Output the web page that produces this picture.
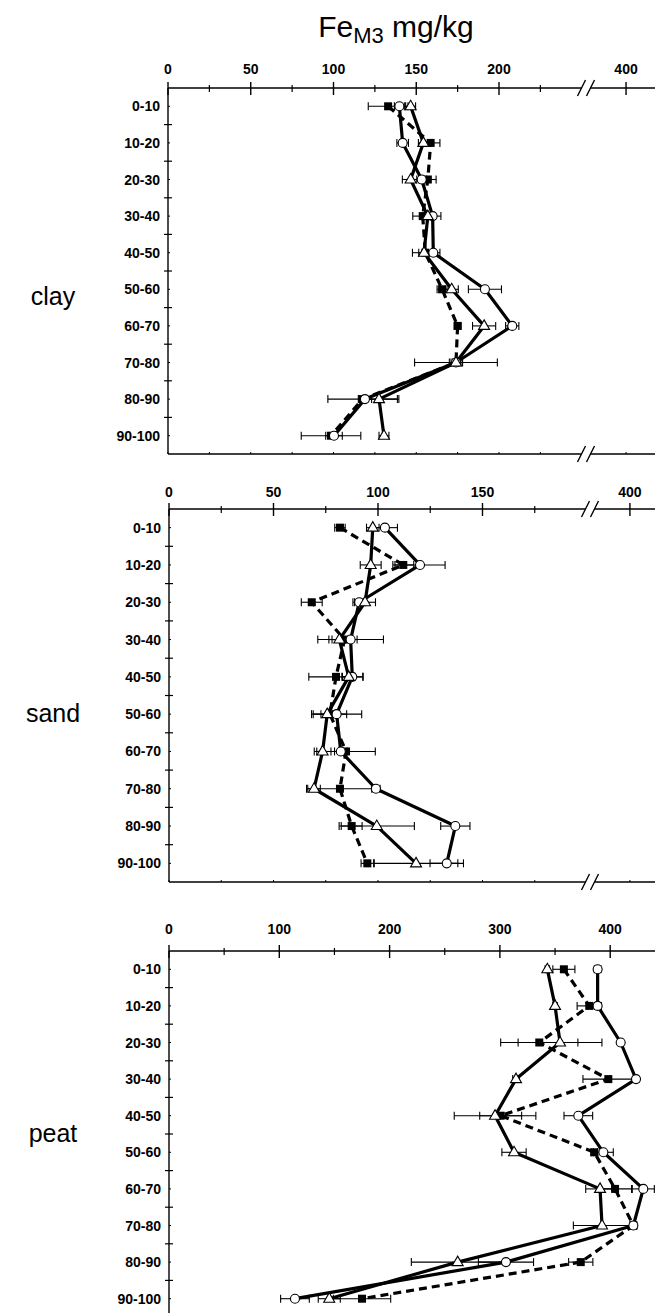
<!DOCTYPE html>
<html>
<head>
<meta charset="utf-8">
<script src="https://cdn.jsdelivr.net/npm/d3@7"></script>
<style>
	html, body { margin: 0; padding: 0; background: #fff; }
	svg { display: block; font-family: "Liberation Sans", Arial, sans-serif; }
</style>
</head>
<body>
<div id="chart"></div>
<script>
// depth classes (cm)
const depths = ["0-10", "10-20", "20-30", "30-40", "40-50", "50-60", "60-70", "70-80", "80-90", "90-100"];

// clay
const claySquare = [133, 158.7, 157, 153.9, 155.5, 165.6, 175, 174, 117.6, 98.5];
const claySquareErr = [12, 5.6, 5, 6, 4, 3, 2, 3, 21, 18];
const clayCircle = [139.8, 141.8, 153.3, 159.9, 160.3, 191.5, 208, 174, 119, 100.3];
const clayCircleErr = [3, 3.5, 3, 5, 4, 10, 4, 4, 4, 5];
const clayTriangle = [146.6, 154.3, 146.6, 157, 154.7, 171.4, 191, 174, 127.5, 130.5];
const clayTriangleErr = [3, 3, 5, 3, 7, 4, 7, 25, 12, 3];

// sand
const sandSquare = [81.8, 112.1, 68.3, 84, 79.9, 77, 84.7, 81.8, 87.4, 94.9];
const sandSquareErr = [2.5, 5, 5, 6, 13, 8, 14, 16, 5, 3];
const sandCircle = [103.3, 120.1, 91, 86.9, 87.7, 80.2, 82.2, 99, 137, 132.9];
const sandCircleErr = [6, 12, 3, 15.7, 5, 12, 3, 2, 7, 8];
const sandTriangle = [97.5, 96.5, 93.8, 81.5, 86, 75.7, 73.5, 69.4, 99.4, 118.2];
const sandTriangleErr = [3, 5, 5, 5, 3, 3, 4, 3, 18, 20];

// peat
const peatSquare = [358, 381, 335.7, 398.3, 300.7, 385.6, 404.4, 421, 373.3, 175];
const peatSquareErr = [10, 11, 35, 23, 19, 3, 15, 3, 11, 26];
const peatCircle = [388.6, 388.6, 409.5, 423.4, 371.1, 393.8, 430, 421, 305.5, 114.2];
const peatCircleErr = [3, 3, 2, 2, 13, 9, 10, 3, 25, 13];
const peatTriangle = [343, 350, 354.5, 314.6, 295.6, 312.8, 390.8, 392.6, 261.7, 145.3];
const peatTriangleErr = [2, 2, 38, 3, 37, 11, 13, 26, 42, 10];

// tick values
const clayMajor = [0, 50, 100, 150, 200, 400];
const clayMinor = [25, 75, 125, 175, 225];
const sandMajor = [0, 50, 100, 150, 400];
const sandMinor = [25, 75, 125, 175];
const peatMajor = [0, 100, 200, 300, 400];
const peatMinor = [50, 150, 250, 350];

const W = 655, H = 1313;

const panels = [
	{
		name: "clay", top: 88, bottom: 454, x0: 168, unit: 1.655, brkX: 586, brkV: 375.8,
		labelY: 74, nameY: 305, bottomAxis: true,
		major: clayMajor, minor: clayMinor,
		series: [
			{ values: claySquare, err: claySquareErr, kind: "square" },
			{ values: clayCircle, err: clayCircleErr, kind: "circle" },
			{ values: clayTriangle, err: clayTriangleErr, kind: "triangle" }
		]
	},
	{
		name: "sand", top: 509, bottom: 882, x0: 169, unit: 2.09, brkX: 590, brkV: 380.9,
		labelY: 497, nameY: 722, bottomAxis: true,
		major: sandMajor, minor: sandMinor,
		series: [
			{ values: sandSquare, err: sandSquareErr, kind: "square" },
			{ values: sandCircle, err: sandCircleErr, kind: "circle" },
			{ values: sandTriangle, err: sandTriangleErr, kind: "triangle" }
		]
	},
	{
		name: "peat", top: 951, bottom: 1317, x0: 169, unit: 1.103, brkX: null,
		labelY: 934, nameY: 1142, bottomAxis: false,
		major: peatMajor, minor: peatMinor,
		series: [
			{ values: peatSquare, err: peatSquareErr, kind: "square" },
			{ values: peatCircle, err: peatCircleErr, kind: "circle" },
			{ values: peatTriangle, err: peatTriangleErr, kind: "triangle" }
		]
	}
];

const svg = d3
	.select("#chart")
	.append("svg")
	.attr("width", W)
	.attr("height", H)
	.attr("viewBox", `0 0 ${W} ${H}`);

// title
const title = svg
	.append("text")
	.attr("x", 396)
	.attr("y", 37)
	.attr("text-anchor", "middle")
	.attr("font-size", 30)
	.attr("fill", "#000");
title.append("tspan").text("Fe");
title.append("tspan").attr("font-size", 22).attr("dy", 6).text("M3");
title.append("tspan").attr("dy", -6).text(" mg/kg");

const trianglePath = "M0,-6 L5.5,3.5 L-5.5,3.5 Z";

function drawBreak(g, x, y) {
	g.append("polygon")
		.attr("points", `${x - 8},${y + 8} ${x - 1},${y - 8} ${x + 8},${y - 8} ${x + 1},${y + 8}`)
		.attr("fill", "#fff");
	[-4.5, 4.5].forEach(dx => {
		g.append("line")
			.attr("x1", x + dx - 4)
			.attr("y1", y + 8)
			.attr("x2", x + dx + 4)
			.attr("y2", y - 8)
			.attr("stroke", "#000")
			.attr("stroke-width", 1.4);
	});
}

panels.forEach(p => {
	const g = svg.append("g").attr("class", `panel-${p.name}`);

	// x scale (piecewise when the axis has a break)
	const x = p.brkX
		? d3
				.scaleLinear()
				.domain([0, (p.brkX - p.x0) / p.unit, p.brkV, p.brkV + 80])
				.range([p.x0, p.brkX, p.brkX, p.brkX + 80 * p.unit])
		: d3
				.scaleLinear()
				.domain([0, 440])
				.range([p.x0, p.x0 + 440 * p.unit]);

	const y = d3
		.scaleBand()
		.domain(depths)
		.range([p.top, p.bottom]);
	const yc = d => y(d) + y.bandwidth() / 2;

	// top axis
	g.append("line")
		.attr("x1", p.x0)
		.attr("x2", W)
		.attr("y1", p.top)
		.attr("y2", p.top)
		.attr("stroke", "#000")
		.attr("stroke-width", 1.4);

	g.selectAll(".major")
		.data(p.major)
		.enter()
		.append("line")
		.attr("x1", d => x(d))
		.attr("x2", d => x(d))
		.attr("y1", p.top - 6)
		.attr("y2", p.top + 7)
		.attr("stroke", "#000")
		.attr("stroke-width", 1.4);

	g.selectAll(".minor")
		.data(p.minor)
		.enter()
		.append("line")
		.attr("x1", d => x(d))
		.attr("x2", d => x(d))
		.attr("y1", p.top - 3)
		.attr("y2", p.top + 4)
		.attr("stroke", "#000")
		.attr("stroke-width", 1.2);

	g.selectAll(".xlabel")
		.data(p.major)
		.enter()
		.append("text")
		.attr("x", d => x(d))
		.attr("y", p.labelY)
		.attr("text-anchor", "middle")
		.attr("font-size", 14)
		.attr("font-weight", "bold")
		.text(d => d);

	// bottom axis
	if (p.bottomAxis) {
		g.append("line")
			.attr("x1", p.x0)
			.attr("x2", W)
			.attr("y1", p.bottom)
			.attr("y2", p.bottom)
			.attr("stroke", "#000")
			.attr("stroke-width", 1.4);

		g.selectAll(".btick")
			.data(p.major.concat(p.minor))
			.enter()
			.append("line")
			.attr("x1", d => x(d))
			.attr("x2", d => x(d))
			.attr("y1", p.bottom - 2)
			.attr("y2", p.bottom)
			.attr("stroke", "#000")
			.attr("stroke-width", 1);
	}

	if (p.brkX) {
		drawBreak(g, p.brkX, p.top);
		if (p.bottomAxis) drawBreak(g, p.brkX, p.bottom);
	}

	// left axis
	g.append("line")
		.attr("x1", p.x0)
		.attr("x2", p.x0)
		.attr("y1", p.top)
		.attr("y2", p.bottom)
		.attr("stroke", "#000")
		.attr("stroke-width", 1.4);

	g.selectAll(".ybound")
		.data(depths.slice(1))
		.enter()
		.append("line")
		.attr("x1", p.x0 - 4)
		.attr("x2", p.x0 + 4)
		.attr("y1", d => y(d))
		.attr("y2", d => y(d))
		.attr("stroke", "#000")
		.attr("stroke-width", 1.2);

	g.selectAll(".ymid")
		.data(depths)
		.enter()
		.append("line")
		.attr("x1", p.x0)
		.attr("x2", p.x0 + 2)
		.attr("y1", d => yc(d))
		.attr("y2", d => yc(d))
		.attr("stroke", "#000")
		.attr("stroke-width", 1);

	g.selectAll(".ylabel")
		.data(depths)
		.enter()
		.append("text")
		.attr("x", p.x0 - 8)
		.attr("y", d => yc(d) + 5)
		.attr("text-anchor", "end")
		.attr("font-size", 14)
		.attr("font-weight", "bold")
		.text(d => d);

	// panel name
	g.append("text")
		.attr("x", 53)
		.attr("y", p.nameY)
		.attr("text-anchor", "middle")
		.attr("font-size", 25)
		.text(p.name);

	// lines
	p.series.forEach(s => {
		const line = d3
			.line()
			.x((d, i) => x(d))
			.y((d, i) => yc(depths[i]));
		g.append("path")
			.datum(s.values)
			.attr("d", line)
			.attr("fill", "none")
			.attr("stroke", "#000")
			.attr("stroke-width", 3.2)
			.attr("stroke-linejoin", "round")
			.attr("stroke-dasharray", s.kind === "square" ? "8,5" : null);
	});

	// error bars
	p.series.forEach(s => {
		const eb = g
			.append("g")
			.selectAll("g")
			.data(s.values.map((v, i) => ({ v, e: s.err[i], d: depths[i] })))
			.enter()
			.append("g");
		eb.append("line")
			.attr("x1", d => x(d.v - d.e))
			.attr("x2", d => x(d.v + d.e))
			.attr("y1", d => yc(d.d))
			.attr("y2", d => yc(d.d))
			.attr("stroke", "#000")
			.attr("stroke-width", 1.1);
		[-1, 1].forEach(sg => {
			eb.append("line")
				.attr("x1", d => x(d.v + sg * d.e))
				.attr("x2", d => x(d.v + sg * d.e))
				.attr("y1", d => yc(d.d) - 4)
				.attr("y2", d => yc(d.d) + 4)
				.attr("stroke", "#000")
				.attr("stroke-width", 1.1);
		});
	});

	// markers
	p.series.forEach(s => {
		const m = g
			.append("g")
			.selectAll(".m")
			.data(s.values)
			.enter();
		if (s.kind === "square") {
			m.append("rect")
				.attr("x", d => x(d) - 4)
				.attr("y", (d, i) => yc(depths[i]) - 4)
				.attr("width", 8)
				.attr("height", 8)
				.attr("fill", "#000");
		} else if (s.kind === "circle") {
			m.append("circle")
				.attr("cx", d => x(d))
				.attr("cy", (d, i) => yc(depths[i]))
				.attr("r", 4.5)
				.attr("fill", "#fff")
				.attr("stroke", "#000")
				.attr("stroke-width", 1.1);
		} else {
			m.append("path")
				.attr("d", trianglePath)
				.attr("transform", (d, i) => `translate(${x(d)},${yc(depths[i])})`)
				.attr("fill", "#fff")
				.attr("stroke", "#000")
				.attr("stroke-width", 1.1);
		}
	});
});
</script>
</body>
</html>
